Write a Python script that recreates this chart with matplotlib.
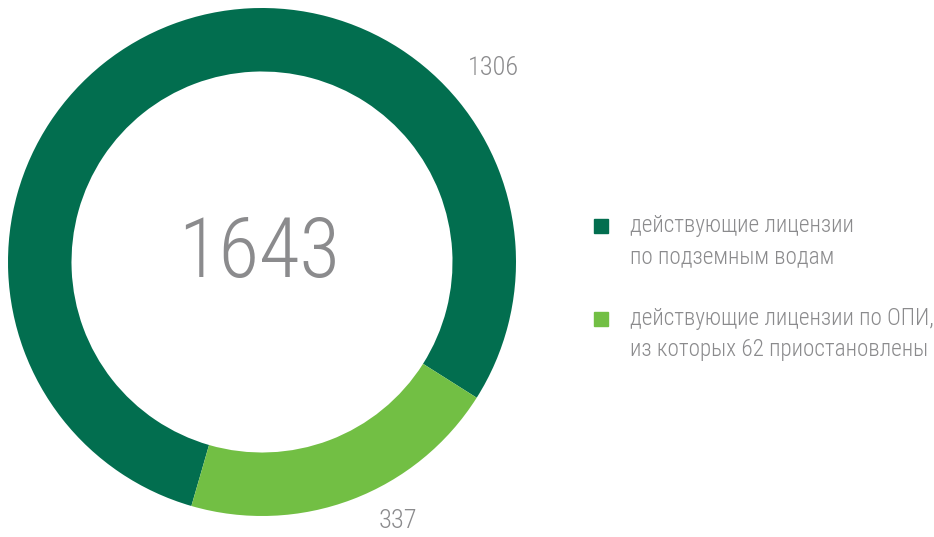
import matplotlib.pyplot as plt
from matplotlib.patches import Rectangle

# data
values = [1306, 337]
total = 1643
colors = ['#026E4F', '#72BF44']
labels = ['действующие лицензии\nпо подземным водам',
          'действующие лицензии по ОПИ,\nиз которых 62 приостановлены']
gray = '#8B8B8D'

plt.rcParams['font.family'] = ['Roboto Condensed', 'DejaVu Sans']
plt.rcParams['font.weight'] = 300

W, H = 934, 537
fig = plt.figure(figsize=(W / 100, H / 100), dpi=100)

# donut: centre (262, 262) px, outer radius 254 px
cx, cy, r = 262, 262, 254
ax = fig.add_axes([(cx - r) / W, (H - cy - r) / H, 2 * r / W, 2 * r / H])
ax.pie(values, colors=colors, startangle=-32.3, counterclock=True,
       wedgeprops=dict(width=0.25, edgecolor='none'), radius=1)
ax.set_xlim(-1, 1)
ax.set_ylim(-1, 1)
ax.set_aspect('equal')
ax.axis('off')

ax.text(-0.01, 0.03, str(total), ha='center', va='center', fontsize=60, color=gray)
ax.text(0.91, 0.765, str(values[0]), ha='center', va='center', fontsize=19, color=gray)
ax.text(0.535, -1.02, str(values[1]), ha='center', va='center', fontsize=19, color=gray)

# legend
for i, (lab, col) in enumerate(zip(labels, colors)):
    ym = 241 + i * 93
    sq = 226 + i * 93
    fig.patches.append(Rectangle((594 / W, (H - sq - 7) / H), 14 / W, 14 / H,
                                 transform=fig.transFigure, color=col))
    fig.text(630 / W, (H - ym) / H, lab, ha='left', va='center', fontsize=16.7,
             color=gray, linespacing=1.45)

fig.savefig('out.png', dpi=100)
